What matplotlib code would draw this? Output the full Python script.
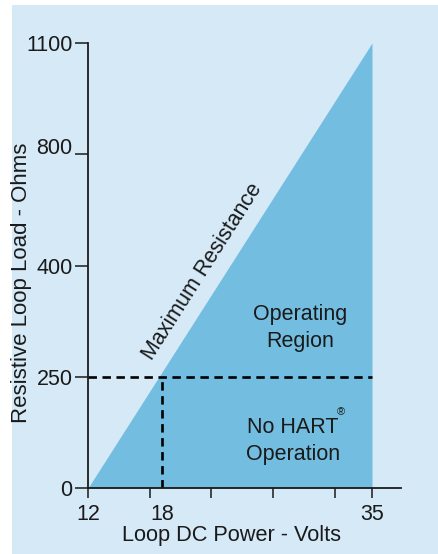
import numpy as np
import matplotlib
matplotlib.use('Agg')
import matplotlib.pyplot as plt
import matplotlib.transforms as mtransforms
from matplotlib.patches import Rectangle

plt.rcParams['font.family'] = ['Liberation Sans', 'DejaVu Sans']

# data
volts = [12, 35]
max_ohms = [0, 1100]
hart_volts = 18
hart_ohms = 250
y_ticks = [0, 250, 400, 800, 1100]
x_ticks = [12, 17, 22, 27, 32, 35]
x_ticklabels = ['12', '', '', '', '', '35']

bg = '#d5e9f7'
fill_col = '#72bde0'
ink = '#1a1a1a'

fig = plt.figure(figsize=(4.38, 5.54), dpi=100)
fig.patches.append(Rectangle((12 / 438, 0), 1, 549 / 554, transform=fig.transFigure,
                             facecolor=bg, edgecolor='none', zorder=-10))

ax = fig.add_axes([88 / 438, 1 - 488 / 554, 313 / 438, 445 / 554])
ax.set_facecolor('none')

# the y ticks are evenly spaced although their values are not
pos = np.arange(len(y_ticks))
ax.set_yscale('function', functions=(lambda v: np.interp(v, y_ticks, pos),
                                     lambda p: np.interp(p, pos, y_ticks)))

ax.fill_between(volts, [0, 0], max_ohms, color=fill_col, linewidth=0)
ax.hlines(hart_ohms, volts[0], volts[1], colors='black', linewidth=1.9,
          linestyles=(0, (3.2, 2.1)))
ax.vlines(hart_volts, 0, hart_ohms, colors='black', linewidth=1.9,
          linestyles=(0, (3.2, 2.1)))

ax.set_xlim(12, 12 + 313 / (284 / 23))
ax.set_ylim(0, 1100)

for s in ['top', 'right']:
    ax.spines[s].set_visible(False)
for s in ['left', 'bottom']:
    ax.spines[s].set_linewidth(1.3)
    ax.spines[s].set_color(ink)

ax.set_yticks(y_ticks)
ax.set_yticklabels([str(v) for v in y_ticks])
ax.set_xticks(x_ticks)
ax.set_xticklabels(x_ticklabels)
ax.set_xticks([hart_volts], minor=True)
ax.set_xticklabels([str(hart_volts)], minor=True)
ax.yaxis.set_minor_locator(matplotlib.ticker.NullLocator())

ax.tick_params(axis='y', which='major', length=9.5, width=1.1, color=ink,
               labelsize=15.5, pad=1.5, labelcolor=ink)
ax.tick_params(axis='x', which='major', length=7.5, width=1.1, color=ink,
               labelsize=15.5, pad=4, labelcolor=ink)
ax.tick_params(axis='x', which='minor', length=0, labelsize=15.5, pad=11.5,
               labelcolor=ink)

ax.set_xlabel('Loop DC Power - Volts', fontsize=15.7, color=ink, va='center')
ax.xaxis.set_label_coords(0.46, -0.106)
ax.set_ylabel('Resistive Loop Load - Ohms', fontsize=16, color=ink, va='center')
ax.yaxis.set_label_coords(-0.211, 0.461)

ax.text(0.365, 0.487, 'Maximum Resistance', transform=ax.transAxes, rotation=57.5,
        rotation_mode='anchor', ha='center', va='center', fontsize=15.5, color=ink)
ax.text(0.677, 0.36, 'Operating\nRegion', transform=ax.transAxes, ha='center',
        va='center', fontsize=15.5, color=ink, linespacing=1.4)
ax.text(0.655, 0.106, 'No HART\nOperation', transform=ax.transAxes, ha='center',
        va='center', fontsize=15.5, color=ink, linespacing=1.4)
ax.text(0.808, 0.17, '\u00ae', transform=ax.transAxes, ha='center',
        va='center', fontsize=8, color=ink)

# the 800 label sits a little above its tick in the original
fig.canvas.draw()
for t in ax.yaxis.get_major_ticks():
    if t.label1.get_text() == '800':
        t.label1.set_transform(t.label1.get_transform() +
                               mtransforms.ScaledTranslation(0, 8 / 100, fig.dpi_scale_trans))

fig.savefig('out.png', dpi=100)
